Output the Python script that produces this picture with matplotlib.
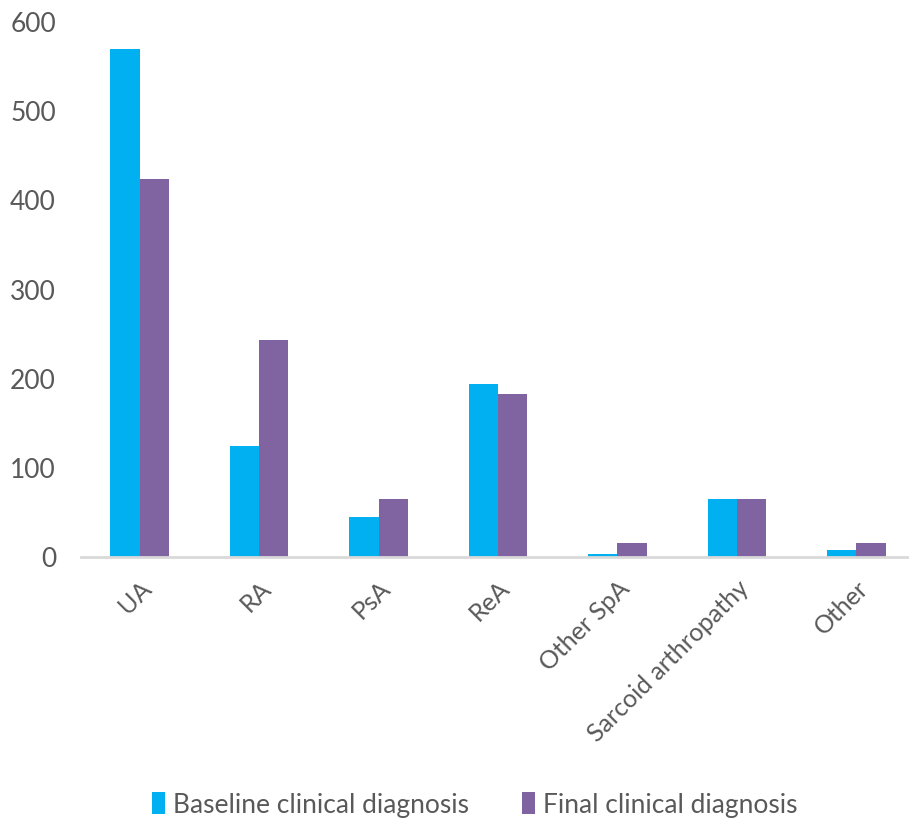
import matplotlib
matplotlib.use("Agg")
import matplotlib.pyplot as plt
import numpy as np

categories = ["UA", "RA", "PsA", "ReA", "Other SpA", "Sarcoid arthropathy", "Other"]
baseline = [570, 124, 45, 194, 3, 65, 8]
final = [424, 243, 65, 183, 16, 65, 16]
yticks = [0, 100, 200, 300, 400, 500, 600]

plt.rcParams['font.family'] = ['Lato', 'DejaVu Sans']
W, H = 909, 824
fig = plt.figure(figsize=(W / 100, H / 100), dpi=100)
ax = fig.add_axes([81 / W, 1 - 557 / H, (909 - 81) / W, (557 - 22) / H])

x = np.arange(len(categories))
bw = 0.245
b1 = ax.bar(x - bw / 2, baseline, bw, color="#00B0F0", label="Baseline clinical diagnosis")
b2 = ax.bar(x + bw / 2, final, bw, color="#8064A2", label="Final clinical diagnosis")

ax.set_xlim(-0.49, 6.44)
ax.set_ylim(0, 600)
ax.set_yticks(yticks)
ax.set_yticklabels([str(t) for t in yticks])
ax.set_xticks(x)
ax.set_xticklabels(categories, rotation=45, ha="right", rotation_mode="anchor")
for s in ["top", "right", "left"]:
    ax.spines[s].set_visible(False)
ax.spines["bottom"].set_color("#D9D9D9")
ax.spines["bottom"].set_linewidth(2)
ax.tick_params(axis="y", length=0, labelsize=19, labelcolor="#595959", pad=18)
ax.tick_params(axis="x", length=0, labelsize=18, labelcolor="#595959", pad=14)

fig.legend(handles=[b1, b2], loc="center", bbox_to_anchor=(475 / W, 1 - 805 / H),
           ncol=2, frameon=False, fontsize=19, labelcolor="#595959",
           handlelength=0.5, handleheight=0.9, handletextpad=0.3, columnspacing=2.0)

fig.savefig("out.png", dpi=100)
